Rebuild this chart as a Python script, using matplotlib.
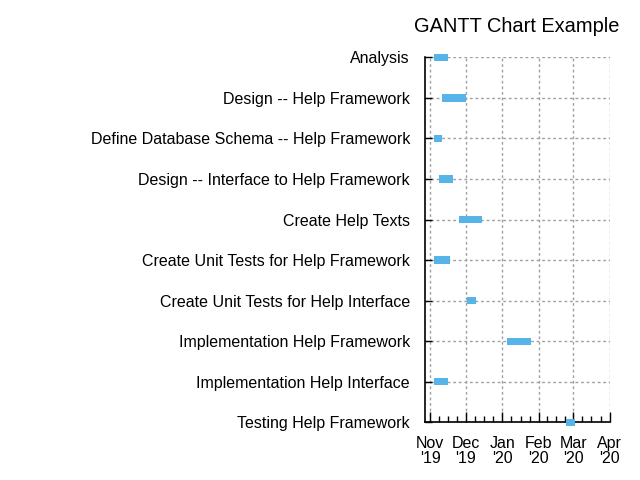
import matplotlib
matplotlib.use("Agg")
import matplotlib.pyplot as plt
import matplotlib.dates as mdates
from matplotlib.ticker import FixedLocator
from datetime import datetime

plt.rcParams['font.family'] = ['Liberation Sans', 'DejaVu Sans']

tasks = [
    "Analysis",
    "Design -- Help Framework",
    "Define Database Schema -- Help Framework",
    "Design -- Interface to Help Framework",
    "Create Help Texts",
    "Create Unit Tests for Help Framework",
    "Create Unit Tests for Help Interface",
    "Implementation Help Framework",
    "Implementation Help Interface",
    "Testing Help Framework",
]
starts = ["2019-11-04", "2019-11-11", "2019-11-04", "2019-11-08", "2019-11-25",
          "2019-11-04", "2019-12-02", "2020-01-05", "2019-11-04", "2020-02-24"]
ends = ["2019-11-16", "2019-12-01", "2019-11-11", "2019-11-20", "2019-12-15",
        "2019-11-18", "2019-12-10", "2020-01-25", "2019-11-16", "2020-03-03"]
month_ticks = ["2019-11-01", "2019-12-01", "2020-01-01", "2020-02-01", "2020-03-01", "2020-04-01"]
month_labels = ["Nov\n'19", "Dec\n'19", "Jan\n'20", "Feb\n'20", "Mar\n'20", "Apr\n'20"]

def d(s):
    return mdates.date2num(datetime.strptime(s, "%Y-%m-%d"))

fig = plt.figure(figsize=(6.4, 4.8), dpi=100)
ax = fig.add_axes([0.6646, 0.1202, 0.2881, 0.7604])

ys = list(range(len(tasks)))
for y, s, e in zip(ys, starts, ends):
    ax.barh(y, d(e) - d(s), left=d(s), height=0.18, color="#56B4E9", zorder=3, clip_on=False)

mt = [d(m) for m in month_ticks]
ax.set_xlim(mt[0] - 4.2, mt[-1])
ax.set_ylim(len(tasks) - 1, 0)

ax.xaxis.set_major_locator(FixedLocator(mt))
ax.set_xticklabels(month_labels)
for lbl in ax.get_xticklabels():
    lbl.set_linespacing(1.0)
minors = []
for a, b in zip(mt[:-1], mt[1:]):
    step = (b - a) / 4
    minors += [a + step * k for k in (1, 2, 3)]
ax.xaxis.set_minor_locator(FixedLocator(minors))

ax.set_yticks(ys)
ax.set_yticklabels(tasks)

ax.tick_params(axis='x', which='major', direction='in', length=7, width=1, pad=10, labelsize=11.5)
ax.tick_params(axis='x', which='minor', direction='in', length=4, width=1)
ax.tick_params(axis='y', which='major', direction='in', length=5, width=1, pad=11, labelsize=11.5)

for sp in ['top', 'right']:
    ax.spines[sp].set_visible(False)
for sp in ['left', 'bottom']:
    ax.spines[sp].set_linewidth(1.2)

ax.grid(True, which='major', linestyle=(0, (2, 2)), color='#a0a0a0', linewidth=1, zorder=0)
ax.set_axisbelow(True)

fig.text(0.967, 0.945, "GANTT Chart Example", ha='right', va='center', fontsize=14.4)

fig.savefig("out.png", dpi=100)
